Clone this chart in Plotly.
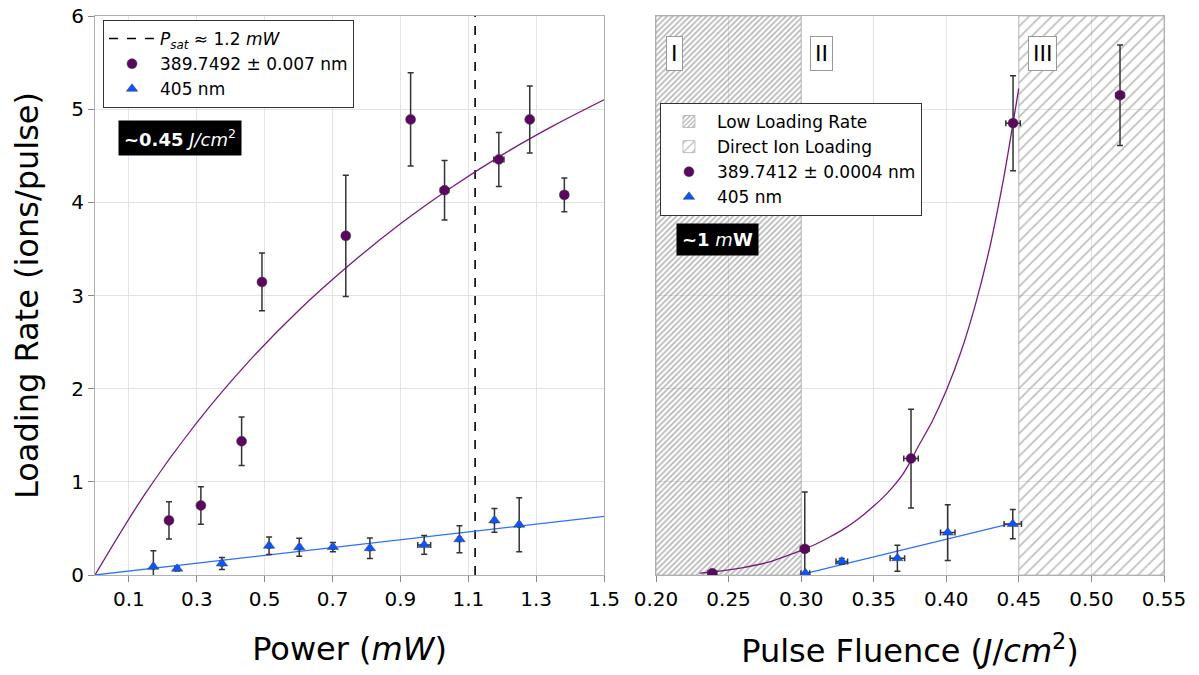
import plotly.graph_objects as go

# ---------------- data ----------------
# Left panel: loading rate vs power
p_purple_x = [0.218, 0.312, 0.432, 0.492, 0.739, 0.930, 1.030, 1.190, 1.281, 1.383]
p_purple_y = [0.586, 0.746, 1.436, 3.145, 3.64, 4.89, 4.13, 4.46, 4.89, 4.08]
p_purple_yerr = [0.20, 0.20, 0.26, 0.31, 0.65, 0.50, 0.32, 0.29, 0.36, 0.18]
p_purple_xerr = [0.004, 0.004, 0.006, 0.004, 0.004, 0.01, 0.012, 0.015, 0.006, 0.004]

p_blue_x = [0.172, 0.242, 0.374, 0.513, 0.602, 0.701, 0.810, 0.970, 1.074, 1.177, 1.250]
p_blue_y = [0.089, 0.067, 0.124, 0.313, 0.298, 0.300, 0.288, 0.323, 0.384, 0.586, 0.540]
p_blue_yerr = [0.17, 0.02, 0.064, 0.094, 0.096, 0.05, 0.11, 0.10, 0.145, 0.128, 0.29]
p_blue_xerr = [0.004, 0.004, 0.004, 0.004, 0.004, 0.004, 0.004, 0.019, 0.004, 0.004, 0.004]

# fitted curves
p_fit_purple_x = [0, 0.15, 0.3, 0.45, 0.6, 0.75, 0.9, 1.05, 1.2, 1.35, 1.5]
p_fit_purple_y = [0, 0.885, 1.636, 2.28, 2.84, 3.33, 3.77, 4.16, 4.51, 4.82, 5.10]
p_fit_blue_x = [0, 1.5]
p_fit_blue_y = [0, 0.63]
psat_x = 1.12

# Right panel: loading rate vs pulse fluence
f_purple_x = [0.2388, 0.3025, 0.3757, 0.446, 0.5197]
f_purple_y = [0.018, 0.28, 1.25, 4.85, 5.15]
f_purple_yerr = [0.02, 0.61, 0.53, 0.51, 0.54]
f_purple_xerr = [0.003, 0.003, 0.005, 0.005, 0.003]

f_blue_x = [0.3029, 0.328, 0.3663, 0.401, 0.4458]
f_blue_y = [0.02, 0.146, 0.18, 0.455, 0.547]
f_blue_yerr = [0.0, 0.03, 0.14, 0.30, 0.157]
f_blue_xerr = [0.003, 0.004, 0.005, 0.005, 0.006]

f_fit_purple_x = [0.23, 0.24, 0.25, 0.26, 0.27, 0.28, 0.29, 0.30, 0.31, 0.32, 0.33, 0.34,
                  0.35, 0.36, 0.37, 0.3757, 0.38, 0.39, 0.40, 0.41, 0.42, 0.43, 0.44, 0.446, 0.4499]
f_fit_purple_y = [0.02, 0.035, 0.055, 0.08, 0.11, 0.15, 0.205, 0.265, 0.33, 0.41, 0.50, 0.61,
                  0.74, 0.89, 1.08, 1.23, 1.36, 1.64, 1.98, 2.39, 2.90, 3.52, 4.30, 4.85, 5.22]
f_fit_blue_x = [0.3004, 0.4458]
f_fit_blue_y = [0.007, 0.558]

regions = ["Low Loading Rate", "Direct Ion Loading"]
region_center = [0.25, 0.50]
region_width = [0.10, 0.10]
region_labels = ["I", "II", "III"]
region_label_x = [0.2125, 0.3137, 0.4665]

FONT = "DejaVu Sans"
PURPLE = "#5b0760"
PURPLE_LINE = "#7a1a7e"
BLUE = "#0a55ff"
BLUE_LINE = "#2a72ff"
ERR = "#333333"

fig = go.Figure()

# hatched regions (right panel)
for name, xc, w, sz, sol, fg in zip(regions, region_center, region_width, [4, 8], [0.4, 0.2],
                                    ["#6a6a6a", "#7a7a7a"]):
    fig.add_trace(go.Bar(
        x=[xc], y=[6], width=[w], base=0, name=name,
        xaxis="x2", yaxis="y2", legend="legend2",
        marker=dict(color="rgba(0,0,0,0)", line=dict(color="#b0b0b0", width=0.8),
                    pattern=dict(shape="/", size=sz, solidity=sol, fgcolor=fg,
                                 bgcolor="rgba(0,0,0,0)", fillmode="overlay")),
        hoverinfo="skip"))

# left panel
fig.add_trace(go.Scatter(x=[psat_x, psat_x], y=[0, 6], mode="lines",
                         line=dict(color="black", dash="dash", width=1.6),
                         name="<i>P</i><sub><i>sat</i></sub> ≈ 1.2 <i>mW</i>",
                         xaxis="x", yaxis="y", legend="legend"))
fig.add_trace(go.Scatter(x=p_fit_purple_x, y=p_fit_purple_y, mode="lines",
                         line=dict(color=PURPLE_LINE, width=1.3, shape="spline"),
                         showlegend=False, xaxis="x", yaxis="y"))
fig.add_trace(go.Scatter(x=p_fit_blue_x, y=p_fit_blue_y, mode="lines",
                         line=dict(color=BLUE_LINE, width=1.3),
                         showlegend=False, xaxis="x", yaxis="y"))
fig.add_trace(go.Scatter(
    x=p_purple_x, y=p_purple_y, mode="markers", name="389.7492 ± 0.007 nm",
    marker=dict(symbol="circle", size=10, color=PURPLE, line=dict(color="#444", width=0.5)),
    error_y=dict(type="data", array=p_purple_yerr, color=ERR, thickness=1.5, width=3),
    error_x=dict(type="data", array=p_purple_xerr, color=ERR, thickness=1.5, width=3),
    xaxis="x", yaxis="y", legend="legend"))
fig.add_trace(go.Scatter(
    x=p_blue_x, y=p_blue_y, mode="markers", name="405 nm",
    marker=dict(symbol="triangle-up", size=10, color=BLUE, line=dict(color="#444", width=0.5)),
    error_y=dict(type="data", array=p_blue_yerr, color=ERR, thickness=1.5, width=3),
    error_x=dict(type="data", array=p_blue_xerr, color=ERR, thickness=1.5, width=3),
    xaxis="x", yaxis="y", legend="legend"))

# right panel
fig.add_trace(go.Scatter(x=f_fit_purple_x, y=f_fit_purple_y, mode="lines",
                         line=dict(color=PURPLE_LINE, width=1.3, shape="spline", smoothing=0.6),
                         showlegend=False, xaxis="x2", yaxis="y2"))
fig.add_trace(go.Scatter(x=f_fit_blue_x, y=f_fit_blue_y, mode="lines",
                         line=dict(color=BLUE_LINE, width=1.3),
                         showlegend=False, xaxis="x2", yaxis="y2"))
fig.add_trace(go.Scatter(
    x=f_purple_x, y=f_purple_y, mode="markers", name="389.7412 ± 0.0004 nm",
    marker=dict(symbol="circle", size=10, color=PURPLE, line=dict(color="#444", width=0.5)),
    error_y=dict(type="data", array=f_purple_yerr, color=ERR, thickness=1.5, width=3),
    error_x=dict(type="data", array=f_purple_xerr, color=ERR, thickness=1.5, width=3),
    xaxis="x2", yaxis="y2", legend="legend2"))
fig.add_trace(go.Scatter(
    x=f_blue_x, y=f_blue_y, mode="markers", name="405 nm",
    marker=dict(symbol="triangle-up", size=10, color=BLUE, line=dict(color="#444", width=0.5)),
    error_y=dict(type="data", array=f_blue_yerr, color=ERR, thickness=1.5, width=3),
    error_x=dict(type="data", array=f_blue_xerr, color=ERR, thickness=1.5, width=3),
    xaxis="x2", yaxis="y2", legend="legend2"))

axis_common = dict(showline=True, linecolor="#b0b0b0", linewidth=1.2, mirror=True,
                   ticks="outside", ticklen=6, tickcolor="#888", tickwidth=1.2,
                   showgrid=True, gridcolor="#e3e3e3", gridwidth=1, zeroline=False,
                   automargin=False,
                   tickfont=dict(family=FONT, size=20, color="black"))

fig.update_layout(
    width=1199, height=675,
    paper_bgcolor="white", plot_bgcolor="white",
    margin=dict(l=87, r=43, t=8, b=108, autoexpand=False),
    font=dict(family=FONT, color="black"),
    barmode="overlay",
    xaxis=dict(domain=[0, 0.4762], range=[0, 1.5],
               tickvals=[0.1, 0.3, 0.5, 0.7, 0.9, 1.1, 1.3, 1.5],
               ticktext=["0.1", "0.3", "0.5", "0.7", "0.9", "1.1", "1.3", "1.5"],
               title=dict(text="Power (<i>mW</i>)", font=dict(family=FONT, size=32), standoff=27),
               **axis_common),
    yaxis=dict(range=[0, 6], tickvals=[0, 1, 2, 3, 4, 5, 6], ticklabeloverflow="allow",
               title=dict(text="Loading Rate (ions/pulse)", font=dict(family=FONT, size=32), standoff=24),
               **axis_common),
    xaxis2=dict(domain=[0.5248, 1], range=[0.2, 0.55], anchor="y2",
                tickvals=[0.2, 0.25, 0.3, 0.35, 0.4, 0.45, 0.5, 0.55],
                ticktext=["0.20", "0.25", "0.30", "0.35", "0.40", "0.45", "0.50", "0.55"],
                title=dict(text="Pulse Fluence (<i>J</i>/<i>cm</i><sup>2</sup>)",
                           font=dict(family=FONT, size=32), standoff=29),
                **axis_common),
    yaxis2=dict(range=[0, 6], anchor="x2", tickvals=[0, 1, 2, 3, 4, 5, 6],
                showticklabels=False, **{k: v for k, v in axis_common.items() if k != "ticks"},
                ticks=""),
    legend=dict(x=0.0075, y=0.9928, xanchor="left", yanchor="top",
                bgcolor="white", bordercolor="#333", borderwidth=1,
                font=dict(family=FONT, size=17), tracegroupgap=0, itemwidth=46),
    legend2=dict(x=0.5285, y=0.8444, xanchor="left", yanchor="top",
                 bgcolor="white", bordercolor="#333", borderwidth=1,
                 font=dict(family=FONT, size=17), tracegroupgap=0, itemwidth=46),
    showlegend=True,
)

annotations = [
    dict(x=0.25, y=4.69, xref="x", yref="y",
         text="<b>~0.45</b> <i>J/cm</i><sup>2</sup>", showarrow=False,
         font=dict(family=FONT, size=18, color="white"), bgcolor="black",
         borderpad=5),
    dict(x=0.2425, y=3.6, xref="x2", yref="y2",
         text="<b>~1</b> <i>m</i><b>W</b>", showarrow=False,
         font=dict(family=FONT, size=18, color="white"), bgcolor="black",
         borderpad=5),
]
for lab, lx in zip(region_labels, region_label_x):
    annotations.append(dict(x=lx, y=5.6, xref="x2", yref="y2", text=lab, showarrow=False,
                            font=dict(family=FONT, size=22, color="black"),
                            bgcolor="white", bordercolor="#999", borderwidth=1, borderpad=4))
fig.update_layout(annotations=annotations)

fig.write_html("out.html")
